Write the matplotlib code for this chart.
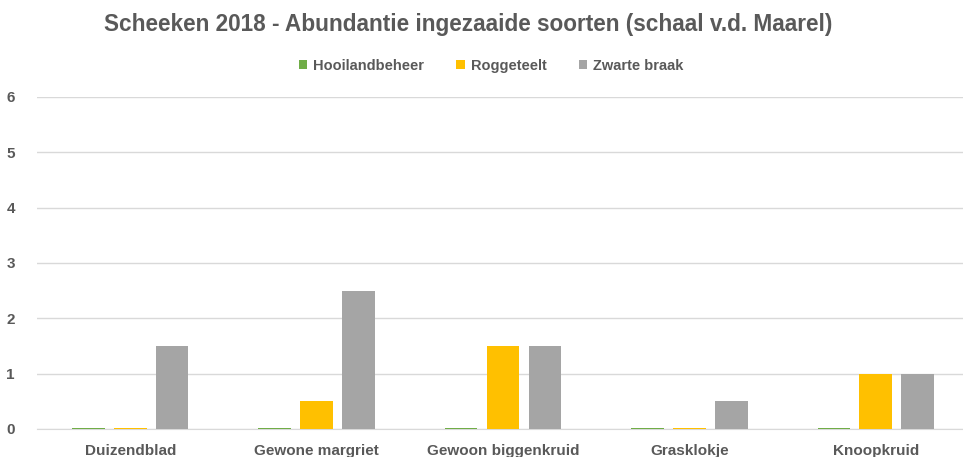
import numpy as np
import matplotlib.pyplot as plt

categories = ['Duizendblad', 'Gewone margriet', 'Gewoon biggenkruid', 'Grasklokje', 'Knoopkruid']
hooiland = [0.025, 0.025, 0.025, 0.025, 0.025]
rogge = [0.025, 0.5, 1.5, 0.025, 1.0]
zwart = [1.5, 2.5, 1.5, 0.5, 1.0]
series_names = ['Hooilandbeheer', 'Roggeteelt', 'Zwarte braak']

colors = ['#70AD47', '#FFC000', '#A5A5A5']
txt = '#595959'

plt.rcParams['font.family'] = ['Liberation Sans', 'DejaVu Sans']

fig = plt.figure(figsize=(9.63, 4.57), dpi=100)
ax = fig.add_axes([37 / 963, 1 - 429 / 457, 932 / 963, 332 / 457])

x = np.arange(len(categories))
w = 0.175
step = 0.225
for i, (vals, name) in enumerate(zip([hooiland, rogge, zwart], series_names)):
    ax.bar(x + (i - 1) * step, vals, width=w, color=colors[i], label=name, zorder=3)

ax.set_xlim(-0.5, len(categories) - 0.5)
ax.set_ylim(0, 6)
ax.set_yticks(range(0, 7))
ax.yaxis.grid(True, color='#d9d9d9', linewidth=1, zorder=0)
for s in ['top', 'right', 'left']:
    ax.spines[s].set_visible(False)
ax.spines['bottom'].set_color('#d9d9d9')
ax.tick_params(axis='both', length=0, colors=txt)
ax.tick_params(axis='y', pad=16)
ax.tick_params(axis='x', pad=11)
ax.set_xticks(x)
ax.set_xticklabels(categories, fontsize=11, fontweight='bold', color=txt)
for lab in ax.get_yticklabels():
    lab.set_fontsize(11)
    lab.set_fontweight('bold')
    lab.set_color(txt)

fig.text(0.486, 1 - 24 / 457, 'Scheeken 2018 - Abundantie ingezaaide soorten (schaal v.d. Maarel)',
         ha='center', va='center', fontsize=16.3, fontweight='bold', color=txt)

leg = fig.legend(loc='center', bbox_to_anchor=(0.51, 1 - 66 / 457), ncol=3, frameon=False,
                 prop={'size': 10.5, 'weight': 'bold'}, handlelength=0.6, handleheight=0.6,
                 handletextpad=0.4, columnspacing=2.2)
for t in leg.get_texts():
    t.set_color(txt)

fig.savefig('out.png', dpi=100)
